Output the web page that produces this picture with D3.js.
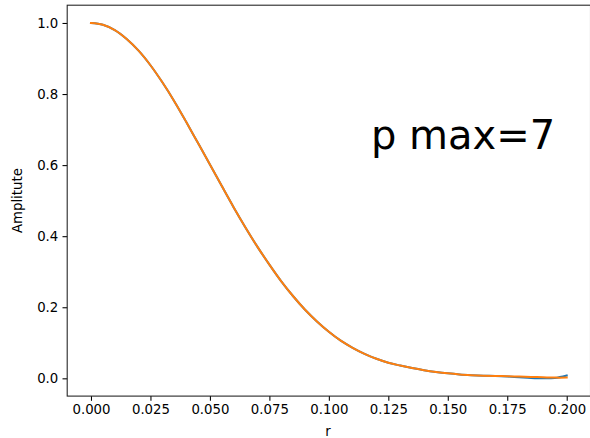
<!DOCTYPE html>
<html>
<head>
<meta charset="utf-8">
<script src="https://cdn.jsdelivr.net/npm/d3@7"></script>
<style>
  html, body { margin: 0; padding: 0; background: #fff; }
  svg { display: block; }
  text { font-family: "DejaVu Sans", sans-serif; fill: #000; }
</style>
</head>
<body>
<svg id="chart" width="590" height="438"></svg>
<script>
// Radial samples (r) and the two amplitude profiles
const radius = [0.000, 0.005, 0.010, 0.015, 0.020, 0.025, 0.030, 0.035, 0.040, 0.045,
                0.050, 0.055, 0.060, 0.065, 0.070, 0.075, 0.080, 0.085, 0.090, 0.095,
                0.100, 0.105, 0.110, 0.115, 0.120, 0.125, 0.130, 0.135, 0.140, 0.145,
                0.150, 0.155, 0.160, 0.165, 0.170, 0.175, 0.180, 0.185, 0.190, 0.195, 0.200];

const amplitudeExact = [1.000, 0.995, 0.980, 0.955, 0.922, 0.881, 0.833, 0.780, 0.722, 0.662,
                        0.602, 0.541, 0.481, 0.424, 0.370, 0.320, 0.273, 0.231, 0.193, 0.160,
                        0.131, 0.106, 0.086, 0.069, 0.055, 0.044, 0.036, 0.029, 0.023, 0.018,
                        0.014, 0.011, 0.009, 0.0075, 0.0065, 0.005, 0.003, 0.001, 0.000, 0.001, 0.008];

const amplitudeFit = [1.000, 0.995, 0.980, 0.955, 0.922, 0.881, 0.833, 0.780, 0.722, 0.662,
                      0.602, 0.541, 0.481, 0.424, 0.370, 0.320, 0.273, 0.231, 0.193, 0.160,
                      0.131, 0.106, 0.086, 0.069, 0.055, 0.044, 0.036, 0.029, 0.023, 0.018,
                      0.014, 0.011, 0.009, 0.0075, 0.0065, 0.006, 0.005, 0.004, 0.003, 0.002, 0.002];

const xTicks = [0.000, 0.025, 0.050, 0.075, 0.100, 0.125, 0.150, 0.175, 0.200];
const yTicks = [0.0, 0.2, 0.4, 0.6, 0.8, 1.0];

const annotation = "p max=7";
const xLabel = "r";
const yLabel = "Amplitute";

const svg = d3.select("#chart");
const box = { left: 67.2, right: 590.5, top: 5.2, bottom: 396.1 };

const x = d3.scaleLinear().domain([-0.01, 0.21]).range([box.left, box.right]);
const y = d3.scaleLinear().domain([-0.05, 1.05]).range([box.bottom, box.top]);

const line = d3.line()
  .curve(d3.curveCatmullRom.alpha(0.5))
  .x((d, i) => x(radius[i]))
  .y(d => y(d));

// Curves: blue drawn first, orange on top
svg.append("path")
  .datum(amplitudeExact)
  .attr("d", line)
  .attr("fill", "none")
  .attr("stroke", "#1f77b4")
  .attr("stroke-width", 2)
  .attr("stroke-linejoin", "round")
  .attr("stroke-linecap", "square");

svg.append("path")
  .datum(amplitudeFit)
  .attr("d", line)
  .attr("fill", "none")
  .attr("stroke", "#ff7f0e")
  .attr("stroke-width", 2)
  .attr("stroke-linejoin", "round")
  .attr("stroke-linecap", "square");

// Axes
const xAxis = d3.axisBottom(x).tickValues(xTicks).tickFormat(d3.format(".3f"))
  .tickSize(4.7).tickPadding(4.2);
const yAxis = d3.axisLeft(y).tickValues(yTicks).tickFormat(d3.format(".1f"))
  .tickSize(4.7).tickPadding(4.2);

const gx = svg.append("g").attr("transform", `translate(0,${box.bottom})`).call(xAxis);
const gy = svg.append("g").attr("transform", `translate(${box.left},0)`).call(yAxis);

[gx, gy].forEach(g => {
  g.select(".domain").remove();
  g.selectAll(".tick line").attr("stroke", "#000").attr("stroke-width", 1.07);
  g.selectAll(".tick text").attr("font-size", "13.3px").attr("fill", "#000")
    .style("font-family", "DejaVu Sans");
});

// Frame
svg.append("rect")
  .attr("x", box.left).attr("y", box.top)
  .attr("width", box.right - box.left).attr("height", box.bottom - box.top)
  .attr("fill", "none").attr("stroke", "#222").attr("stroke-width", 1.07);

// Axis labels
svg.append("text")
  .attr("x", (box.left + 589) / 2).attr("y", 436)
  .attr("text-anchor", "middle").attr("font-size", "13.3px")
  .text(xLabel);

svg.append("text")
  .attr("transform", `translate(22,${(box.top + box.bottom) / 2}) rotate(-90)`)
  .attr("text-anchor", "middle").attr("font-size", "13.3px")
  .text(yLabel);

// Annotation
svg.append("text")
  .attr("x", 371).attr("y", 149)
  .attr("font-size", "40px")
  .text(annotation);
</script>
</body>
</html>
